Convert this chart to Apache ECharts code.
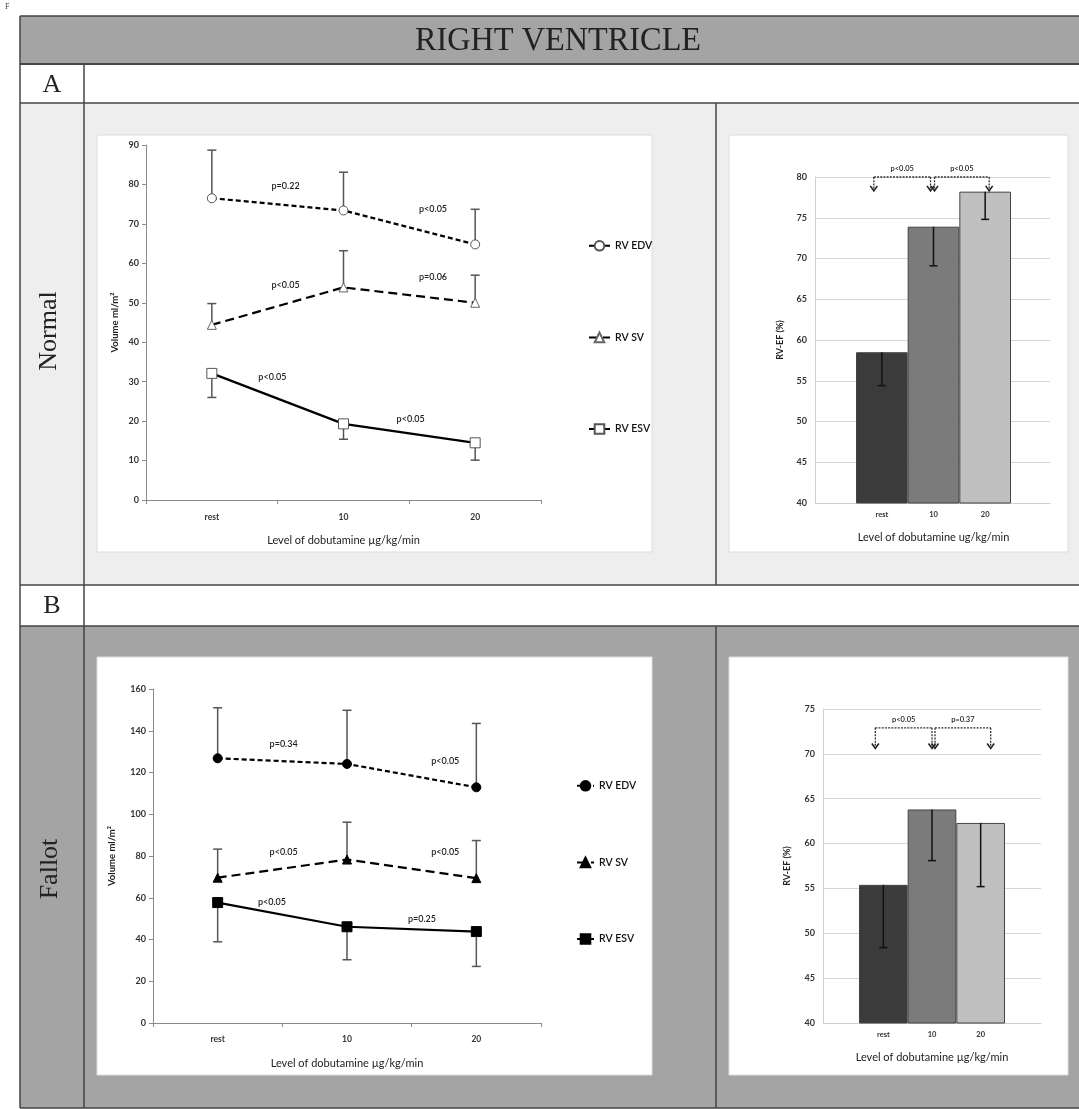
<!DOCTYPE html>
<html><head><meta charset="utf-8">
<script src="https://cdn.jsdelivr.net/npm/echarts@6/dist/echarts.min.js"></script>
<style>html,body{margin:0;padding:0;background:#fff}#c{width:1079px;height:1109px}</style>
</head><body><div id="c"></div>
<script>
// ---------- DATA ----------
const lineCategories = ['rest', '10', '20'];
const barCategories = ['rest', '10', '20'];
const seriesNames = ['RV EDV', 'RV SV', 'RV ESV'];

// Normal – volumes (ml/m²) and error-bar ends
const normalEDV = [76.5, 73.4, 64.8];
const normalEDVErr = [88.7, 83.1, 73.7];
const normalSV = [44.4, 53.9, 50.0];
const normalSVErr = [49.8, 63.2, 57.0];
const normalESV = [32.1, 19.3, 14.5];
const normalESVErr = [26.0, 15.4, 10.1];
// Normal – RV-EF (%)
const normalEF = [58.5, 73.9, 78.2];
const normalEFErr = [54.4, 69.1, 74.8];

// Fallot – volumes (ml/m²)
const fallotEDV = [126.8, 124.1, 112.9];
const fallotEDVErr = [151.0, 149.8, 143.5];
const fallotSV = [69.6, 78.3, 69.4];
const fallotSVErr = [83.3, 96.2, 87.4];
const fallotESV = [57.7, 46.1, 43.8];
const fallotESVErr = [38.9, 30.3, 27.1];
// Fallot – RV-EF (%)
const fallotEF = [55.4, 63.8, 62.3];
const fallotEFErr = [48.4, 58.1, 55.2];

// p-value annotations (text + anchor in data units: [category position, value])
const normalPText = ['p=0.22', 'p<0.05', 'p<0.05', 'p=0.06', 'p<0.05', 'p<0.05'];
const normalPAt = [[0.56, 79.6], [1.68, 73.8], [0.56, 54.5], [1.68, 56.6], [0.46, 31.2], [1.51, 20.5]];
const fallotPText = ['p=0.34', 'p<0.05', 'p<0.05', 'p<0.05', 'p<0.05', 'p=0.25'];
const fallotPAt = [[0.51, 133.6], [1.76, 125.6], [0.51, 81.8], [1.76, 81.8], [0.42, 57.7], [1.58, 49.8]];

// bar-chart comparison brackets: [from, to], level, arrow tip value, text
const normalBrackets = [[0, 1], [1, 2]];
const normalBracketLevel = 80, normalBracketTip = 78.3;
const normalBracketText = ['p<0.05', 'p<0.05'];
const fallotBrackets = [[0, 1], [1, 2]];
const fallotBracketLevel = 72.9, fallotBracketTip = 70.6;
const fallotBracketText = ['p<0.05', 'p=0.37'];

const volYTicks = { normal: [0, 90, 10], fallot: [0, 160, 20] };
const efYTicks = { normal: [40, 80, 5], fallot: [40, 75, 5] };

// ---------- STYLE ----------
const FONT = 'Lato';
const barColors = ['#3b3b3b', '#7b7b7b', '#c0c0c0'];

function toErr(vals, ends) { return vals.map((v, i) => [i, v, ends[i]]); }

function errRender(color, lw, capW) {
  return function (params, api) {
    const x = api.value(0), y0 = api.value(1), y1 = api.value(2);
    const p0 = api.coord([x, y0]), p1 = api.coord([x, y1]);
    const st = { stroke: color, lineWidth: lw };
    return { type: 'group', children: [
      { type: 'line', shape: { x1: p0[0], y1: p0[1], x2: p1[0], y2: p1[1] }, style: st },
      { type: 'line', shape: { x1: p1[0] - capW / 2, y1: p1[1], x2: p1[0] + capW / 2, y2: p1[1] }, style: st }
    ]};
  };
}

// interpolate between category centres for fractional positions
function catCoord(api, x, y) {
  const i0 = Math.min(Math.floor(x), 1), f = x - i0;
  const a = api.coord([i0, y]), b = api.coord([i0 + 1, y]);
  return [a[0] + (b[0] - a[0]) * f, a[1]];
}

function textRender(texts, size) {
  return function (params, api) {
    const p = catCoord(api, api.value(0), api.value(1));
    return { type: 'text', x: p[0], y: p[1], style: { text: texts[params.dataIndex], fill: '#222',
      font: '600 ' + size + 'px ' + FONT, textAlign: 'center', textVerticalAlign: 'middle' } };
  };
}

function bracketRender(level, tip, texts, offs) {
  return function (params, api) {
    const a = api.value(0), b = api.value(1);
    const pa = api.coord([a, level]), pb = api.coord([b, level]);
    const t = api.coord([a, tip]);
    const xa = pa[0] + offs[params.dataIndex][0], xb = pb[0] + offs[params.dataIndex][1];
    const yl = pa[1], yt = t[1];
    const st = { stroke: '#333', lineWidth: 1.3, lineDash: [2, 1.2] };
    const ah = { stroke: '#222', lineWidth: 1.6, fill: null };
    const arrow = (x) => ({ type: 'polyline', shape: { points: [[x - 3.5, yt - 5], [x, yt], [x + 3.5, yt - 5]] }, style: ah });
    return { type: 'group', children: [
      { type: 'line', shape: { x1: xa, y1: yl, x2: xb, y2: yl }, style: st },
      { type: 'line', shape: { x1: xa, y1: yl, x2: xa, y2: yt - 1 }, style: st },
      { type: 'line', shape: { x1: xb, y1: yl, x2: xb, y2: yt - 1 }, style: st },
      arrow(xa), arrow(xb),
      { type: 'text', x: (xa + xb) / 2, y: yl - 8, style: { text: texts[params.dataIndex], fill: '#222',
        font: '600 7.5px ' + FONT, textAlign: 'center', textVerticalAlign: 'middle' } }
    ]};
  };
}

const tickLabel = { fontFamily: FONT, fontSize: 9, fontWeight: 'bold', color: '#333' };

function volX(grid, margin) {
  return { type: 'category', gridIndex: grid, data: lineCategories, boundaryGap: true,
    axisLine: { lineStyle: { color: '#8a8a8a', width: 1 } },
    axisTick: { show: true, length: 4, lineStyle: { color: '#8a8a8a' } },
    axisLabel: Object.assign({}, tickLabel, { margin: margin, fontSize: 8.5 }),
    name: 'Level of dobutamine µg/kg/min', nameLocation: 'middle', nameGap: 35,
    nameTextStyle: { fontFamily: FONT, fontSize: 11, color: '#222' } };
}
function volY(grid, t, gap) {
  return { type: 'value', gridIndex: grid, min: t[0], max: t[1], interval: t[2],
    axisLine: { show: true, lineStyle: { color: '#8a8a8a', width: 1 } },
    axisTick: { show: true, length: 4, lineStyle: { color: '#8a8a8a' } },
    splitLine: { show: false }, axisLabel: Object.assign({}, tickLabel, { margin: 7 }),
    name: 'Volume ml/m²', nameLocation: 'middle', nameGap: gap,
    nameTextStyle: { fontFamily: FONT, fontSize: 9.5, fontWeight: 'bold', color: '#222' } };
}
function efBaseX(grid) {
  return { type: 'category', gridIndex: grid, data: [''], axisLine: { lineStyle: { color: '#cfcfcf' } },
    axisTick: { show: false }, axisLabel: { show: false } };
}
function efBaseY(grid, t, gap) {
  return { type: 'value', gridIndex: grid, min: t[0], max: t[1], interval: t[2],
    axisLine: { show: true, lineStyle: { color: '#cfcfcf' } }, axisTick: { show: false },
    splitLine: { show: true, lineStyle: { color: '#d6d6d6', width: 1 } },
    axisLabel: Object.assign({}, tickLabel, { margin: 8 }),
    name: 'RV-EF (%)', nameLocation: 'middle', nameGap: gap,
    nameTextStyle: { fontFamily: FONT, fontSize: 9, fontWeight: 'bold', color: '#222' } };
}
function efBarX(grid, name) {
  return { type: 'category', gridIndex: grid, data: barCategories, axisLine: { show: false },
    axisTick: { show: false }, axisLabel: Object.assign({}, tickLabel, { margin: 8, fontSize: 7.5 }),
    name: name, nameLocation: 'middle', nameGap: 29,
    nameTextStyle: { fontFamily: FONT, fontSize: 11, color: '#222' } };
}
function efBarY(grid, t) {
  return { type: 'value', gridIndex: grid, min: t[0], max: t[1], interval: t[2], show: false };
}

function lineSeries(name, data, xi, dash, symbol, size, fill, border) {
  return { type: 'line', name: name, xAxisIndex: xi, yAxisIndex: xi, data: data, z: 4,
    symbol: symbol, symbolSize: size, showAllSymbol: true,
    lineStyle: { color: '#000', width: 2.2, type: dash },
    itemStyle: { color: fill, borderColor: border, borderWidth: 1 } };
}

const chart = echarts.init(document.getElementById('c'));

// ---------- TABLE BACKGROUND ----------
const L = '#444';
function hline(y, x1, x2, w) { return { type: 'line', shape: { x1: x1, y1: y, x2: x2, y2: y }, style: { stroke: L, lineWidth: w || 1.5 } }; }
function vline(x, y1, y2, w) { return { type: 'line', shape: { x1: x, y1: y1, x2: x, y2: y2 }, style: { stroke: L, lineWidth: w || 1.5 } }; }
function panel(x, y, w, h) { return { type: 'rect', shape: { x: x, y: y, width: w, height: h }, style: { fill: '#fff', stroke: '#dcdcdc', lineWidth: 1 } }; }
const serif = '"Liberation Serif", "DejaVu Serif", serif';

const graphics = [
  { type: 'rect', shape: { x: 20, y: 16, width: 1060, height: 48 }, style: { fill: '#a4a4a4' } },
  { type: 'rect', shape: { x: 20, y: 103, width: 1060, height: 482 }, style: { fill: '#eeeeee' } },
  { type: 'rect', shape: { x: 20, y: 626, width: 1060, height: 482 }, style: { fill: '#a4a4a4' } },
  panel(97, 135, 555, 417), panel(729, 135, 339, 417),
  panel(97, 657, 555, 418), panel(729, 657, 339, 418),
  hline(16, 20, 1079), hline(64, 20, 1079, 2), hline(103, 20, 1079), hline(585, 20, 1079),
  hline(626, 20, 1079), hline(1108, 20, 1079),
  vline(20, 16, 1108), vline(84, 64, 1108), vline(716, 103, 585), vline(716, 626, 1108),
  { type: 'text', x: 558, y: 41, scaleX: 0.95, style: { text: 'RIGHT VENTRICLE', font: '34px ' + serif, fill: '#222', textAlign: 'center', textVerticalAlign: 'middle' } },
  { type: 'text', x: 52, y: 85, style: { text: 'A', font: '26px ' + serif, fill: '#222', textAlign: 'center', textVerticalAlign: 'middle' } },
  { type: 'text', x: 52, y: 606, style: { text: 'B', font: '26px ' + serif, fill: '#222', textAlign: 'center', textVerticalAlign: 'middle' } },
  { type: 'text', x: 49, y: 331, rotation: Math.PI / 2, style: { text: 'Normal', font: '26px ' + serif, fill: '#222', textAlign: 'center', textVerticalAlign: 'middle' } },
  { type: 'text', x: 50, y: 869, rotation: Math.PI / 2, style: { text: 'Fallot', font: '26px ' + serif, fill: '#222', textAlign: 'center', textVerticalAlign: 'middle' } },
  { type: 'text', x: 5, y: 3, style: { text: 'F', font: '8px ' + serif, fill: '#444' } }
];

const fN = seriesNames.map(n => n + ' ');

const option = {
  animation: false,
  textStyle: { fontFamily: FONT },
  graphic: { elements: graphics },
  grid: [
    { left: 146, top: 145, width: 395, height: 355 },
    { left: 815, top: 177, width: 235, height: 326 },
    { left: 856, top: 177, width: 155, height: 326 },
    { left: 153, top: 689, width: 388, height: 334 },
    { left: 823, top: 709, width: 218, height: 314 },
    { left: 859, top: 709, width: 146, height: 314 }
  ],
  xAxis: [
    volX(0, 13),
    efBaseX(1),
    efBarX(2, 'Level of dobutamine ug/kg/min'),
    volX(3, 12),
    efBaseX(4),
    efBarX(5, 'Level of dobutamine µg/kg/min')
  ],
  yAxis: [
    volY(0, volYTicks.normal, 26),
    efBaseY(1, efYTicks.normal, 30),
    efBarY(2, efYTicks.normal),
    volY(3, volYTicks.fallot, 36),
    efBaseY(4, efYTicks.fallot, 31),
    efBarY(5, efYTicks.fallot)
  ],
  legend: [
    { data: seriesNames, orient: 'vertical', left: 583, top: 235, itemGap: 80, itemWidth: 21, itemHeight: 12,
      selectedMode: false, textStyle: { fontFamily: FONT, fontSize: 10.5, fontWeight: 600, color: '#111' } },
    { data: fN, orient: 'vertical', left: 571, top: 775, itemGap: 65, itemWidth: 17, itemHeight: 12,
      selectedMode: false, textStyle: { fontFamily: FONT, fontSize: 10.5, fontWeight: 600, color: '#111' } }
  ],
  series: [
    // Normal volumes
    { type: 'custom', xAxisIndex: 0, yAxisIndex: 0, z: 3, renderItem: errRender('#555', 1.5, 9),
      data: [].concat(toErr(normalEDV, normalEDVErr), toErr(normalSV, normalSVErr), toErr(normalESV, normalESVErr)) },
    lineSeries(seriesNames[0], normalEDV, 0, [5, 3], 'circle', 9, '#fff', '#555'),
    lineSeries(seriesNames[1], normalSV, 0, [9, 5], 'triangle', 9, '#fff', '#666'),
    lineSeries(seriesNames[2], normalESV, 0, 'solid', 'rect', 10, '#fff', '#555'),
    { type: 'custom', xAxisIndex: 0, yAxisIndex: 0, z: 5, renderItem: textRender(normalPText, 9), data: normalPAt },
    // Normal EF
    { type: 'bar', xAxisIndex: 2, yAxisIndex: 2, barCategoryGap: '0%', z: 2,
      data: normalEF.map((v, i) => ({ value: v, itemStyle: { color: barColors[i], borderColor: '#444', borderWidth: 1 } })) },
    { type: 'custom', xAxisIndex: 2, yAxisIndex: 2, z: 4, renderItem: errRender('#111', 1.5, 8), data: toErr(normalEF, normalEFErr) },
    { type: 'custom', xAxisIndex: 2, yAxisIndex: 2, z: 5, renderItem: bracketRender(normalBracketLevel, normalBracketTip, normalBracketText, [[-8, -3], [1, 4]]), data: normalBrackets },
    // Fallot volumes
    { type: 'custom', xAxisIndex: 3, yAxisIndex: 3, z: 3, renderItem: errRender('#555', 1.5, 9),
      data: [].concat(toErr(fallotEDV, fallotEDVErr), toErr(fallotSV, fallotSVErr), toErr(fallotESV, fallotESVErr)) },
    lineSeries(fN[0], fallotEDV, 3, [5, 3], 'circle', 9, '#000', '#000'),
    lineSeries(fN[1], fallotSV, 3, [9, 5], 'triangle', 9, '#000', '#000'),
    lineSeries(fN[2], fallotESV, 3, 'solid', 'rect', 10, '#000', '#000'),
    { type: 'custom', xAxisIndex: 3, yAxisIndex: 3, z: 5, renderItem: textRender(fallotPText, 9), data: fallotPAt },
    // Fallot EF
    { type: 'bar', xAxisIndex: 5, yAxisIndex: 5, barCategoryGap: '0%', z: 2,
      data: fallotEF.map((v, i) => ({ value: v, itemStyle: { color: barColors[i], borderColor: '#444', borderWidth: 1 } })) },
    { type: 'custom', xAxisIndex: 5, yAxisIndex: 5, z: 4, renderItem: errRender('#111', 1.5, 8), data: toErr(fallotEF, fallotEFErr) },
    { type: 'custom', xAxisIndex: 5, yAxisIndex: 5, z: 5, renderItem: bracketRender(fallotBracketLevel, fallotBracketTip, fallotBracketText, [[-8, 0], [3, 10]]), data: fallotBrackets }
  ]
};
chart.setOption(option);
</script>
</body></html>
